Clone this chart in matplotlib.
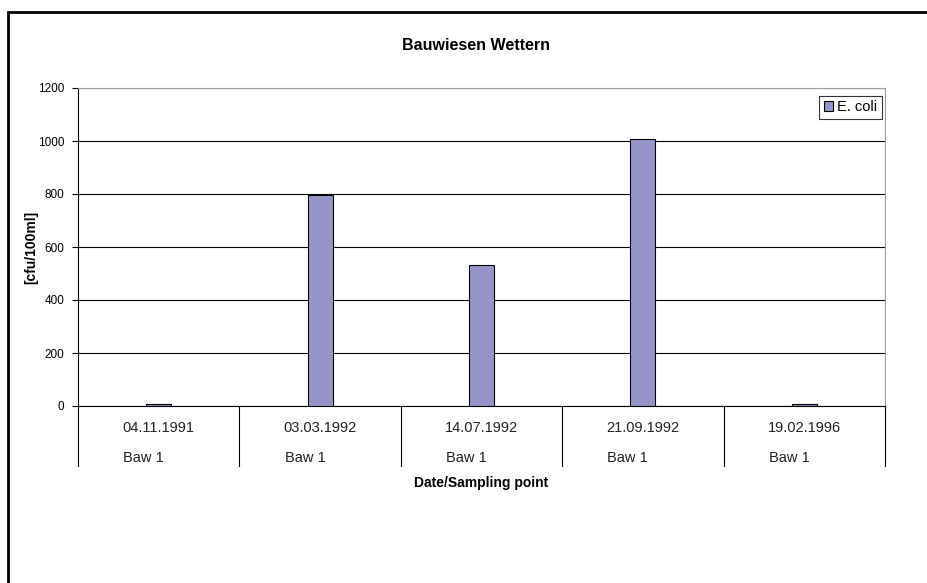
import numpy as np
import matplotlib.pyplot as plt
from matplotlib.patches import Rectangle

plt.rcParams['font.family'] = ['Liberation Sans', 'DejaVu Sans']

# data
dates = ['04.11.1991', '03.03.1992', '14.07.1992', '21.09.1992', '19.02.1996']
points = ['Baw 1', 'Baw 1', 'Baw 1', 'Baw 1', 'Baw 1']
ecoli = [7, 795, 532, 1008, 7]

fig = plt.figure(figsize=(9.28, 5.83), dpi=100)
ax = fig.add_axes([78 / 928, 1 - 406 / 583, (885 - 78) / 928, (406 - 88) / 583])

x = np.arange(len(dates))
ax.bar(x, ecoli, width=0.155, color='#9595c9', edgecolor='black', linewidth=0.8,
       label='E. coli', zorder=3)

ax.set_xlim(-0.5, len(dates) - 0.5)
ax.set_ylim(0, 1200)
ax.set_yticks(np.arange(0, 1201, 200))
ax.tick_params(axis='y', labelsize=8.5, length=4, width=0.8, pad=6)
ax.set_xticks([])
ax.yaxis.grid(True, color='black', linewidth=0.8, zorder=0)

for side in ['top', 'right']:
    ax.spines[side].set_color('#a0a0a0')
ax.spines['left'].set_color('black')
ax.spines['bottom'].set_color('black')

# category separators and two-level labels below the axis
trans = ax.get_xaxis_transform()
for b in np.arange(-0.5, len(dates), 1.0):
    ax.plot([b, b], [0, -60 / 318], transform=trans, color='black',
            linewidth=0.8, clip_on=False)
for i in x:
    ax.text(i, -22 / 318, dates[i], transform=trans, ha='center', va='center',
            fontsize=10.5, color='#222222')
    ax.text(i - 0.5 + 0.28, -52 / 318, points[i], transform=trans, ha='left',
            va='center', fontsize=10.5, color='#222222')

fig.text(476 / 928, 1 - 45 / 583, 'Bauwiesen Wettern', ha='center', va='center',
         fontsize=11.5, fontweight='bold')
fig.text(481 / 928, 1 - 483 / 583, 'Date/Sampling point', ha='center', va='center',
         fontsize=10, fontweight='bold')
fig.text(31 / 928, 1 - 247 / 583, '[cfu/100ml]', ha='center', va='center',
         rotation=90, fontsize=10, fontweight='bold')

leg = ax.legend(loc='upper right', bbox_to_anchor=(882 / 928, 1 - 96 / 583),
                bbox_transform=fig.transFigure, fontsize=10.5, frameon=True,
                fancybox=False, handlelength=0.65, handleheight=0.65,
                handletextpad=0.3, borderpad=0.3, borderaxespad=0)
leg.get_frame().set_edgecolor('black')
leg.get_frame().set_linewidth(0.8)

# outer frame (clipped at right and bottom in the original)
fig.patches.append(Rectangle((8 / 928, -0.1), 1.2, 1 - 12 / 583 + 0.1,
                             transform=fig.transFigure, fill=False,
                             edgecolor='black', linewidth=2))

fig.savefig('out.png', dpi=100)
